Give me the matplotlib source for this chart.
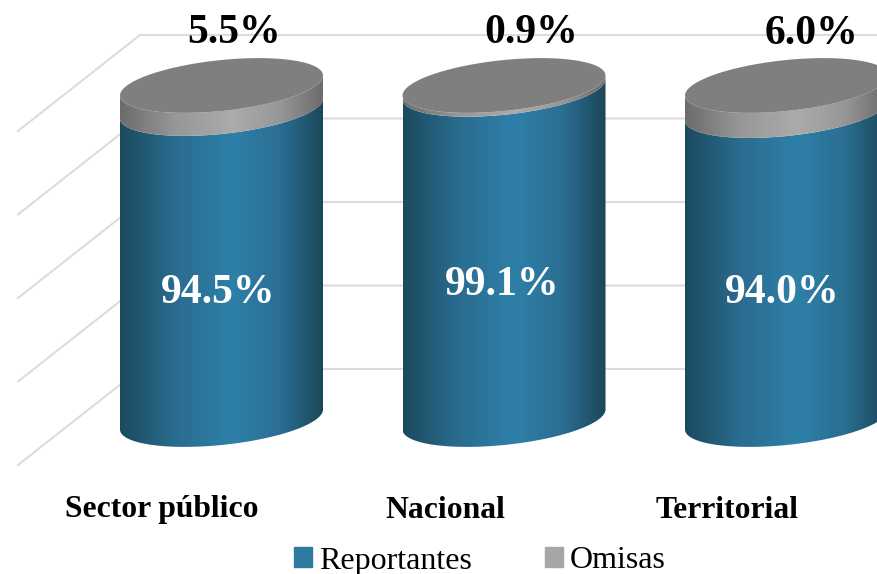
import matplotlib
matplotlib.use('Agg')
import matplotlib.pyplot as plt
import numpy as np
from matplotlib.colors import LinearSegmentedColormap
from matplotlib.patches import Patch, Polygon

categories = ['Sector público', 'Nacional', 'Territorial']
reportantes = [94.5, 99.1, 94.0]
omisas = [5.5, 0.9, 6.0]
value_ticks = [0, 25, 50, 75, 100]

plt.rcParams['font.family'] = ['Liberation Serif', 'DejaVu Serif']

#  Layout of the pseudo 3D scene, in pixels
WIDTH, HEIGHT = 878, 574
PX_CAT = 282.5
PX_VALUE = 3.34
X0_PX, Y0_PX = 221.5, 419.5
half_width = 101.5 / PX_CAT
tilt = 10 / PX_VALUE
minor = 25.5 / PX_VALUE
depth_back = (140 - X0_PX) / PX_CAT, 50.5 / PX_VALUE
depth_front = (18 - X0_PX) / PX_CAT, -45.5 / PX_VALUE
#  The cylinders are foreshortened toward the top of the column
PERSPECTIVE = 1.27

blue_cmap = LinearSegmentedColormap.from_list('blue', [(0, '#1b4a5f'), (0.27, '#2a6c8f'), (0.55, '#2e80a9'),
                                                       (0.78, '#2b6f93'), (1, '#1b4759')])
gray_cmap = LinearSegmentedColormap.from_list('gray', [(0, '#6c6c6c'), (0.27, '#979797'), (0.55, '#ababab'),
                                                       (0.78, '#989898'), (1, '#6a6a6a')])


def project(value):
    return 100 * value / (value + PERSPECTIVE * (100 - value))


def front_arc(cat, value):
    t = np.linspace(np.pi, 2 * np.pi, 100)
    return np.column_stack([cat + half_width * np.cos(t), value + tilt * np.cos(t) + minor * np.sin(t)])


def draw_segment(ax, cat, bottom, top, cmap):
    outline = np.vstack([front_arc(cat, bottom), front_arc(cat, top)[::-1]])
    patch = Polygon(outline, closed=True, facecolor='none', edgecolor='none', transform=ax.transData)
    ax.add_patch(patch)
    gradient = np.linspace(0, 1, 256).reshape(1, -1)
    extent = (cat - half_width, cat + half_width, bottom - minor - tilt, top + minor + tilt)
    image = ax.imshow(gradient, cmap=cmap, extent=extent, aspect='auto', origin='lower', zorder=3)
    image.set_clip_path(patch)


fig = plt.figure(figsize=(WIDTH / 100, HEIGHT / 100), dpi=100)
ax = fig.add_axes([0, 0, 1, 1])
xlim = (-X0_PX / PX_CAT, (WIDTH - X0_PX) / PX_CAT)
ylim = ((Y0_PX - HEIGHT) / PX_VALUE, Y0_PX / PX_VALUE)

#  Back wall and side wall gridlines
for tick in value_ticks:
    back = depth_back[0], tick + depth_back[1]
    front = depth_front[0], tick + depth_front[1]
    ax.plot([front[0], back[0], xlim[1]], [front[1], back[1], back[1]], color='#dcdcdc', lw=1.5, zorder=1)

#  Cylinders
for i, (rep, omi) in enumerate(zip(reportantes, omisas)):
    boundary = project(rep)
    top = project(rep + omi)
    draw_segment(ax, i, 0, boundary, blue_cmap)
    draw_segment(ax, i, boundary, top, gray_cmap)
    t = np.linspace(0, 2 * np.pi, 200)
    ax.fill(i + half_width * np.cos(t), top + tilt * np.cos(t) + minor * np.sin(t), color='#7f7f7f', lw=0, zorder=4)

#  Labels: offsets from the cylinder centre, in pixels
omisas_offsets = [(13, 33), (27.5, 33), (25.5, 34)]
reportantes_offsets = [(-3.5, 293), (-2, 285), (-4.5, 293)]
category_centers = [162, 445, 727.5]
for i, (rep, omi) in enumerate(zip(reportantes, omisas)):
    dx, y_px = omisas_offsets[i]
    ax.text(i + dx / PX_CAT, (Y0_PX - y_px) / PX_VALUE, f'{omi:.1f}%', ha='center', va='center',
            fontsize=30, fontweight='bold', color='black', zorder=5)
    dx, y_px = reportantes_offsets[i]
    ax.text(i + dx / PX_CAT, (Y0_PX - y_px) / PX_VALUE, f'{rep:.1f}%', ha='center', va='center',
            fontsize=30, fontweight='bold', color='white', zorder=5)
    ax.text((category_centers[i] - X0_PX) / PX_CAT, (Y0_PX - 510) / PX_VALUE, categories[i], ha='center', va='center',
            fontsize=22.8, fontweight='bold', color='black', zorder=5)

handles = [Patch(color='#2e7aa1', label='Reportantes'), Patch(color='#a6a6a6', label='Omisas')]
ax.legend(handles=handles, loc='center', bbox_to_anchor=(480 / WIDTH, 1 - 561 / HEIGHT), ncol=2, frameon=False,
          fontsize=23, handlelength=0.56, handleheight=0.58, handletextpad=0.22, columnspacing=2.3,
          borderpad=0, borderaxespad=0)

ax.set_xlim(xlim)
ax.set_ylim(ylim)
ax.axis('off')
fig.savefig('out.png', dpi=100)
